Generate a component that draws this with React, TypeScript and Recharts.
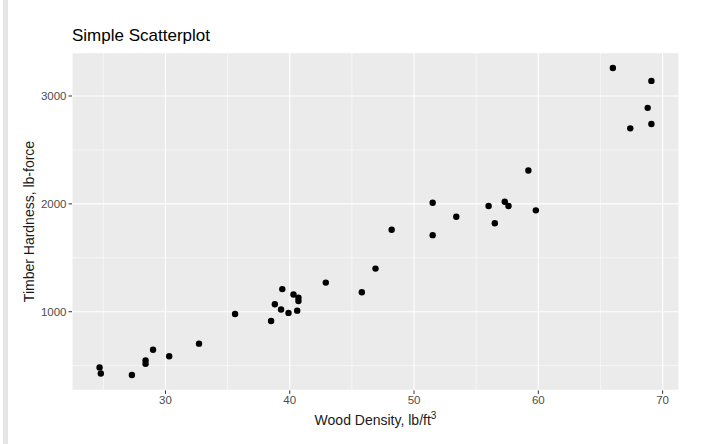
import React from "react";
import {
  ScatterChart,
  Scatter,
  XAxis,
  YAxis,
  CartesianGrid,
  ReferenceLine,
} from "recharts";

const density = [
  24.7, 24.8, 27.3, 28.4, 28.4, 29.0, 30.3, 32.7, 35.6, 38.5, 38.8, 39.3, 39.4,
  39.9, 40.3, 40.6, 40.7, 40.7, 42.9, 45.8, 46.9, 48.2, 51.5, 51.5, 53.4, 56.0,
  56.5, 57.3, 57.6, 59.2, 59.8, 66.0, 67.4, 68.8, 69.1, 69.1,
];
const hardness = [
  484, 427, 413, 517, 549, 648, 587, 704, 979, 914, 1070, 1020, 1210, 989, 1160,
  1010, 1100, 1130, 1270, 1180, 1400, 1760, 1710, 2010, 1880, 1980, 1820, 2020,
  1980, 2310, 1940, 3260, 2700, 2890, 2740, 3140,
];
const xMajorTicks = [30, 40, 50, 60, 70];
const xMinorTicks = [25, 35, 45, 55, 65];
const yMajorTicks = [1000, 2000, 3000];
const yMinorTicks = [500, 1500, 2500];

const data = density.map((d, i) => ({ density: d, hardness: hardness[i] }));

const expand = (vals: number[]): [number, number] => {
  const lo = Math.min(...vals);
  const hi = Math.max(...vals);
  const pad = (hi - lo) * 0.05;
  return [lo - pad, hi + pad];
};

const FONT = '"Liberation Sans", Arial, Helvetica, sans-serif';

const XLabel = (props: any) => {
  const { viewBox } = props;
  const cx = viewBox.x + viewBox.width / 2;
  return (
    <text
      x={cx}
      y={viewBox.y + 35}
      textAnchor="middle"
      fontSize={14}
      fill="#1a1a1a"
      fontFamily={FONT}
    >
      Wood Density, lb/ft
      <tspan fontSize={10} dy={-6}>
        3
      </tspan>
    </text>
  );
};

const YLabel = (props: any) => {
  const { viewBox } = props;
  const cy = viewBox.y + viewBox.height / 2;
  const x = 34;
  return (
    <text
      x={x}
      y={cy}
      textAnchor="middle"
      fontSize={14}
      fill="#1a1a1a"
      fontFamily={FONT}
      transform={`rotate(-90, ${x}, ${cy})`}
    >
      Timber Hardness, lb-force
    </text>
  );
};

export default function App() {
  return (
    <div
      style={{
        position: "absolute",
        left: 0,
        top: 0,
        width: 704,
        height: 444,
        background: "#ffffff",
        fontFamily: FONT,
      }}
    >
      <div
        style={{
          position: "absolute",
          left: 3,
          top: 0,
          width: 5,
          height: 444,
          background: "#e6e6e6",
        }}
      />
      <div
        style={{
          position: "absolute",
          left: 72,
          top: 26,
          fontSize: 17,
          color: "#000000",
          fontFamily: FONT,
          lineHeight: "20px",
        }}
      >
        Simple Scatterplot
      </div>
      <div style={{ position: "absolute", left: 0, top: 0 }}>
        <ScatterChart
          width={704}
          height={444}
          margin={{ top: 52.6, right: 25, left: 0, bottom: 0 }}
        >
          <CartesianGrid
            fill="#ebebeb"
            stroke="#ffffff"
            strokeWidth={1.1}
          />
          {xMinorTicks.map((v) => (
            <ReferenceLine
              key={"xm" + v}
              x={v}
              stroke="#ffffff"
              strokeWidth={0.55}
            />
          ))}
          {yMinorTicks.map((v) => (
            <ReferenceLine
              key={"ym" + v}
              y={v}
              stroke="#ffffff"
              strokeWidth={0.55}
            />
          ))}
          <XAxis
            type="number"
            dataKey="density"
            domain={expand(density)}
            ticks={xMajorTicks}
            allowDataOverflow
            axisLine={false}
            tickLine={{ stroke: "#333333", strokeWidth: 1 }}
            tickSize={3.5}
            tickMargin={2}
            height={53.6}
            tick={{ fill: "#4d4d4d", fontSize: 11.5, fontFamily: FONT }}
            label={<XLabel />}
          />
          <YAxis
            type="number"
            dataKey="hardness"
            domain={expand(hardness)}
            ticks={yMajorTicks}
            allowDataOverflow
            axisLine={false}
            tickLine={{ stroke: "#333333", strokeWidth: 1 }}
            tickSize={3.5}
            tickMargin={2}
            width={72}
            tick={{ fill: "#4d4d4d", fontSize: 11.5, fontFamily: FONT }}
            label={<YLabel />}
          />
          <Scatter
            data={data}
            fill="#000000"
            isAnimationActive={false}
            shape={(p: any) => <circle cx={p.cx} cy={p.cy} r={3.2} fill="#000" />}
          />
        </ScatterChart>
      </div>
    </div>
  );
}
